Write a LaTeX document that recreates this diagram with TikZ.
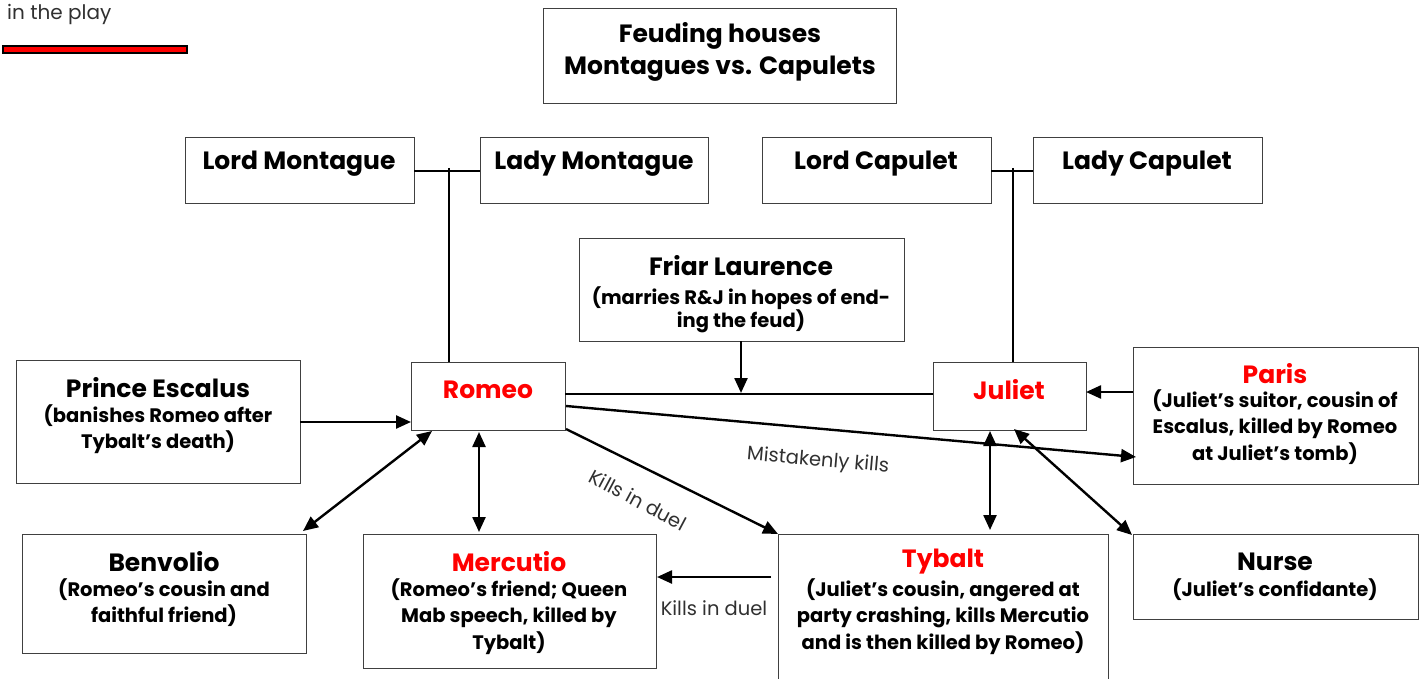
\documentclass[tikz,border=0pt]{standalone}
\usepackage{fontspec}
\setmainfont{Poppins}
\usetikzlibrary{arrows.meta,calc}
\definecolor{boxline}{HTML}{404040}
\definecolor{namered}{HTML}{FF0000}
\definecolor{txtgray}{HTML}{303030}
\tikzset{
  box/.style={draw=boxline, line width=0.9pt, inner sep=0pt, outer sep=0pt, anchor=north west},
  ttl/.style={font=\bfseries\fontsize{25}{29}\selectfont, inner sep=0pt},
  rttl/.style={ttl, text=namered},
  bdy/.style={font=\bfseries\fontsize{19.5}{26.5}\selectfont, inner sep=0pt, align=center},
  conn/.style={line width=2.4pt, draw=black},
  famline/.style={line width=1.6pt, draw=black},
  tip/.tip={Triangle[length=15pt,width=13pt]},
  arr/.style={conn, -tip},
  darr/.style={conn, tip-tip},
  lbl/.style={font=\fontsize{19.5}{22}\selectfont, inner sep=0pt, text=txtgray},
}
\begin{document}
\begin{tikzpicture}[x=1pt,y=-1pt]
\useasboundingbox (0,0) rectangle (1423,679);

% legend fragment
\node[lbl, font=\fontsize{20}{22}\selectfont, anchor=west] (legend) at (7,14) {in the play};
\node[draw=black, line width=1.5pt, fill=namered, minimum width=184pt, minimum height=7pt, inner sep=0pt, anchor=north west] (legendbar) at (2,45.5) {};

% boxes
\node[box, minimum width=353pt, minimum height=95pt] (feud) at (543,8) {};
\node[box, minimum width=229pt, minimum height=66pt] (lmon) at (185,137) {};
\node[box, minimum width=228pt, minimum height=66pt] (ladymon) at (480,137) {};
\node[box, minimum width=229pt, minimum height=66pt] (lcap) at (762,137) {};
\node[box, minimum width=229pt, minimum height=66pt] (ladycap) at (1033,137) {};
\node[box, minimum width=325pt, minimum height=103pt] (friar) at (579,238) {};
\node[box, minimum width=154pt, minimum height=68pt] (romeo) at (411,362) {};
\node[box, minimum width=153pt, minimum height=68pt] (juliet) at (933,362) {};
\node[box, minimum width=284pt, minimum height=123pt] (prince) at (16,360) {};
\node[box, minimum width=285pt, minimum height=137pt] (paris) at (1133,347) {};
\node[box, minimum width=284pt, minimum height=119pt] (benv) at (22,534) {};
\node[box, minimum width=293pt, minimum height=134pt] (merc) at (363,534) {};
\node[box, minimum width=330pt, minimum height=146pt] (tyb) at (778,534) {};
\node[box, minimum width=285pt, minimum height=85pt] (nurse) at (1133,534) {};

% texts
\node[ttl] (feudA) at (720,36) {Feuding houses};
\node[ttl] (feudB) at (720,69) {Montagues vs. Capulets};
\node[ttl] (lmonT) at (299,164) {Lord Montague};
\node[ttl] (ladymonT) at (594,164) {Lady Montague};
\node[ttl] (lcapT) at (876,164) {Lord Capulet};
\node[ttl] (ladycapT) at (1147,164) {Lady Capulet};
\node[ttl] (friarT) at (741,266) {Friar Laurence};
\node[bdy, font=\bfseries\fontsize{19.5}{22}\selectfont, anchor=north] (friarB) at (741,286) {(marries R\&J in hopes of end-\\ing the feud)};
\node[rttl] (romeoT) at (488,390) {Romeo};
\node[rttl] (julietT) at (1009,390) {Juliet};
\node[ttl] (princeT) at (158,388) {Prince Escalus};
\node[bdy, anchor=north] (princeB) at (158,404) {(banishes Romeo after\\Tybalt’s death)};
\node[rttl] (parisT) at (1275,374) {Paris};
\node[bdy, anchor=north] (parisB) at (1275,389) {(Juliet’s suitor, cousin of\\Escalus, killed by Romeo\\at Juliet’s tomb)};
\node[ttl] (benvT) at (164,562) {Benvolio};
\node[bdy, anchor=north] (benvB) at (164,578) {(Romeo’s cousin and\\faithful friend)};
\node[rttl] (mercT) at (509,562) {Mercutio};
\node[bdy, anchor=north] (mercB) at (509,578) {(Romeo’s friend; Queen\\Mab speech, killed by\\Tybalt)};
\node[rttl] (tybT) at (943,562) {Tybalt};
\node[bdy, anchor=north] (tybB) at (943,578) {(Juliet’s cousin, angered at\\party crashing, kills Mercutio\\and is then killed by Romeo)};
\node[ttl] (nurseT) at (1275,562) {Nurse};
\node[bdy, anchor=north] (nurseB) at (1275,578) {(Juliet’s confidante)};

% family connectors
\coordinate (mj) at (449,171);
\coordinate (cj) at (1013,171);
\draw[famline] (lmon.east |- mj) -- (ladymon.west |- mj);
\draw[famline] ($(mj)+(0,-3)$) -- (mj |- romeo.north);
\draw[famline] (lcap.east |- cj) -- (ladycap.west |- cj);
\draw[famline] ($(cj)+(0,-3)$) -- (cj |- juliet.north);

% Romeo - Juliet marriage
\coordinate (rj) at (741,394);
\draw[conn] (romeo.east |- rj) -- (juliet.west |- rj);
\draw[arr] (friar.south -| rj) -- ($(rj)+(0,-1)$);

% other connectors
\coordinate (prY) at (0,422);
\draw[arr] (prince.east |- prY) -- (romeo.west |- prY);
\coordinate (paY) at (0,392);
\draw[arr] (paris.west |- paY) -- (juliet.east |- paY);
\coordinate (rpA) at (566,406);
\coordinate (rpB) at (1136,457);
\draw[arr] (rpA) -- (rpB);
\draw[arr] (romeo.south east) ++(1,-1) -- (tyb.north west);
\coordinate (rbA) at (432,431);
\coordinate (rbB) at (303,531);
\draw[darr] (rbA) -- (rbB);
\coordinate (rmX) at (479,0);
\draw[darr] ($(romeo.south -| rmX)+(0,2)$) -- ($(merc.north -| rmX)+(0,-2)$);
\coordinate (tmY) at (0,577);
\draw[arr] ($(tyb.west |- tmY)+(-7,0)$) -- ($(merc.east |- tmY)+(1,0)$);
\coordinate (jtX) at (990,0);
\draw[darr] ($(juliet.south -| jtX)+(0,1)$) -- ($(tyb.north -| jtX)+(0,-4)$);
\coordinate (jnA) at (1014,429);
\draw[darr] (jnA) -- ($(nurse.north west)+(-1,1)$);

% labels
\node[lbl, rotate=-5] (lblMist) at (818,461) {Mistakenly kills};
\node[lbl, rotate=-28] (lblDuelA) at (638,500) {Kills in duel};
\node[lbl] (lblDuelB) at (714,608) {Kills in duel};
\end{tikzpicture}
\end{document}
